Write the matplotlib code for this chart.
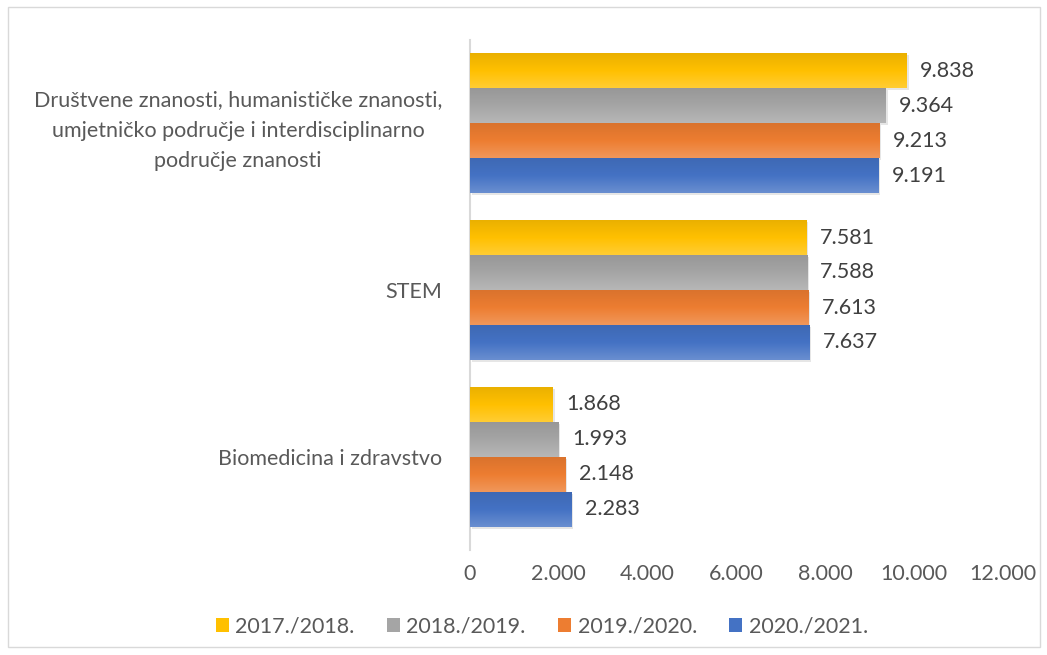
import numpy as np
import matplotlib.pyplot as plt
from matplotlib.colors import LinearSegmentedColormap, to_rgb
from matplotlib.patches import Rectangle
from matplotlib.ticker import FuncFormatter

categories = ["Društvene znanosti, humanističke znanosti,\numjetničko područje i interdisciplinarno\npodručje znanosti",
              "STEM", "Biomedicina i zdravstvo"]
years = ["2017./2018.", "2018./2019.", "2019./2020.", "2020./2021."]
v_2017 = [9838, 7581, 1868]
v_2018 = [9364, 7588, 1993]
v_2019 = [9213, 7613, 2148]
v_2020 = [9191, 7637, 2283]
series = [v_2017, v_2018, v_2019, v_2020]
colors = ["#FFC000", "#A5A5A5", "#ED7D31", "#4472C4"]

plt.rcParams['font.family'] = ['Lato', 'DejaVu Sans']
txt = "#595959"
fs = 15.5


def dot_fmt(v, pos=None):
    return f"{v:,.0f}".replace(",", ".")


def shade(c, f):
    r = np.array(to_rgb(c))
    if f > 0:
        return tuple(r + (1 - r) * f)
    return tuple(r * (1 + f))


fig = plt.figure(figsize=(10.47, 6.55), dpi=100)
ax = fig.add_axes([470 / 1047, 1 - 540 / 655, (1003 - 470) / 1047, 500 / 655])

n = len(series)
group_w = 0.84
bar_h = group_w / n
y_pos = np.arange(len(categories))

for i, (vals, col) in enumerate(zip(series, colors)):
    offs = -group_w / 2 + bar_h * (i + 0.5)
    ys = y_pos + offs
    bars = ax.barh(ys, vals, height=bar_h, color=col, zorder=2, label=years[i])
    cmap = LinearSegmentedColormap.from_list("g", [shade(col, 0.2), col, shade(col, -0.08)])
    grad = np.linspace(0, 1, 50).reshape(-1, 1)
    for b, v, y in zip(bars, vals, ys):
        # soft drop shadow
        ax.add_patch(Rectangle((40, y - bar_h / 2 + 0.012), v, bar_h, color="#e6e6e6", zorder=1, lw=0))
        ax.imshow(grad, cmap=cmap, aspect="auto", zorder=3,
                  extent=(0, v, y - bar_h / 2, y + bar_h / 2))
        ax.text(v + 300, y, dot_fmt(v), va="center", ha="left", fontsize=fs, color="#404040")

ax.set_xlim(0, 12000)
ax.set_ylim(len(categories) - 0.5, -0.5)
ax.set_yticks(y_pos)
ax.set_yticklabels(categories, fontsize=fs, color=txt, multialignment="center", linespacing=1.65)
ax.set_xticks(np.arange(0, 12001, 2000))
ax.xaxis.set_major_formatter(FuncFormatter(dot_fmt))
ax.tick_params(axis="x", length=0, labelsize=fs, labelcolor=txt, pad=17)
ax.tick_params(axis="y", length=0, pad=20)
for s in ["top", "right", "bottom"]:
    ax.spines[s].set_visible(False)
ax.spines["left"].set_color("#d9d9d9")
ax.spines["left"].set_linewidth(1.5)
ax.spines["left"].set_bounds(len(categories) - 0.5 + 0.06, -0.5)

ax.legend(loc="upper center", bbox_to_anchor=(0.135, -0.115), ncol=4, frameon=False,
          fontsize=fs, labelcolor=txt, handlelength=0.6, handleheight=0.6,
          columnspacing=1.5, handletextpad=0.3)

fig.add_artist(Rectangle((8 / 1047, 8 / 655), 1032 / 1047, 640 / 655, transform=fig.transFigure,
                         fill=False, edgecolor="#d9d9d9", lw=1))

fig.savefig("out.png", dpi=100)
